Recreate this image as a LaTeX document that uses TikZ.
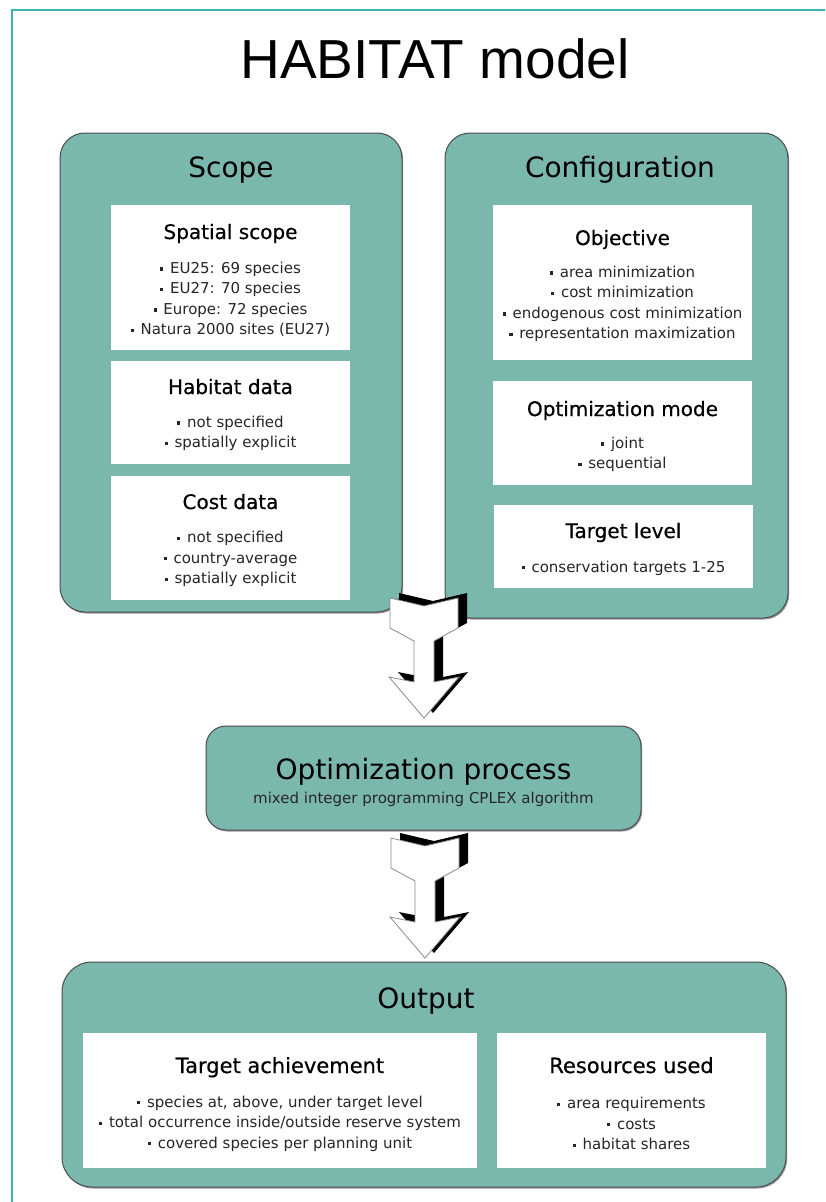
\documentclass[tikz,border=0pt]{standalone}
\usepackage{fontspec}
\setmainfont{DejaVu Sans}
\newfontfamily\titlefont{Liberation Sans}
\newfontfamily\headfont[FakeBold=0.5]{DejaVu Sans}
\newcommand\bul{\raisebox{0.35ex}{\rule{3.2pt}{3.2pt}}\hspace{0.45em}}
\usetikzlibrary{shadows}
\definecolor{panelfill}{HTML}{7AB8AE}
\definecolor{framecol}{HTML}{3DB4B4}
\tikzset{
  panel/.style={draw=black!70, line width=1pt, fill=panelfill, inner sep=0pt,
    drop shadow={shadow xshift=1.2pt, shadow yshift=-1.5pt, opacity=0.4, fill=black}},
  whitebox/.style={fill=white, draw=none, inner sep=0pt},
  head/.style={font=\fontsize{28}{32}\selectfont, anchor=base, inner sep=0pt},
  sub/.style={font=\headfont\fontsize{20}{24}\selectfont, anchor=base, inner sep=0pt},
  items/.style={font=\fontsize{15}{20.5}\selectfont, align=center, inner sep=0pt, text=black!85},
  blockarrow/.pic={
    \path[fill=black, shift={(9,-5)}] (-34,0) -- (0,8) -- (34,0) -- (34,30) -- (10,43) -- (10,84)
      -- (35,79) -- (0,120) -- (-35,79) -- (-10,84) -- (-10,43) -- (-34,30) -- cycle;
    \path[fill=white, draw=black!45, line width=0.8pt] (-34,0) -- (0,8) -- (34,0) -- (34,30) -- (10,43) -- (10,84)
      -- (35,79) -- (0,120) -- (-35,79) -- (-10,84) -- (-10,43) -- (-34,30) -- cycle;
  }
}
\begin{document}
\begin{tikzpicture}[x=1pt, y=-1pt]
\useasboundingbox (0,0) rectangle (825,1202);
\fill[white] (0,0) rectangle (825,1202);
\draw[framecol, line width=1.2pt] (12,1202) -- (12,10) -- (825,10);

\node[font=\titlefont\fontsize{55}{60}\selectfont, anchor=base, inner sep=0pt] (title) at (435,78) {HABITAT model};

% Scope panel
\node[panel, rounded corners=25pt, minimum width=342pt, minimum height=479pt] (scope) at (231,372.5) {};
\node[head] (scopet) at (231,177) {Scope};
\node[whitebox, minimum width=239pt, minimum height=145pt] (spatial) at (230.5,277.5) {};
\node[sub] (spatialt) at (230.5,239) {Spatial scope};
\node[items] (spatiali) at (230.5,299.5) {\bul EU25: 69 species\\\bul EU27: 70 species\\\bul Europe: 72 species\\\bul Natura 2000 sites (EU27)};
\node[whitebox, minimum width=239pt, minimum height=103pt] (habitat) at (230.5,412.5) {};
\node[sub] (habitatt) at (230.5,394) {Habitat data};
\node[items] (habitati) at (230.5,433.5) {\bul not specified\\\bul spatially explicit};
\node[whitebox, minimum width=239pt, minimum height=124pt] (cost) at (230.5,538) {};
\node[sub] (costt) at (230.5,509) {Cost data};
\node[items] (costi) at (230.5,559) {\bul not specified\\\bul country-average\\\bul spatially explicit};

% Configuration panel
\node[panel, rounded corners=25pt, minimum width=343pt, minimum height=485pt] (config) at (616.5,375.5) {};
\node[head] (configt) at (620,177) {Configuration};
\node[whitebox, minimum width=259pt, minimum height=155pt] (objective) at (622.5,282.5) {};
\node[sub] (objectivet) at (622.5,245) {Objective};
\node[items] (objectivei) at (622.5,304) {\bul area minimization\\\bul cost minimization\\\bul endogenous cost minimization\\\bul representation maximization};
\node[whitebox, minimum width=259pt, minimum height=104pt] (mode) at (622.5,433) {};
\node[sub] (modet) at (622.5,416) {Optimization mode};
\node[items] (modei) at (622.5,454.5) {\bul joint\\\bul sequential};
\node[whitebox, minimum width=259pt, minimum height=83pt] (target) at (623.5,546.5) {};
\node[sub] (targett) at (623.5,538) {Target level};
\node[items] (targeti) at (623.5,568) {\bul conservation targets 1-25};

% Optimization process
\node[panel, rounded corners=20pt, minimum width=435pt, minimum height=104pt] (process) at (423.5,778) {};
\node[head] (processt) at (423.5,779) {Optimization process};
\node[items] (processi) at (423.5,799) {mixed integer programming CPLEX algorithm};

% Output
\node[panel, rounded corners=30pt, minimum width=724pt, minimum height=225pt] (output) at (424,1074.5) {};
\node[head] (outputt) at (426,1008) {Output};
\node[whitebox, minimum width=394pt, minimum height=135pt] (achieve) at (280,1100.5) {};
\node[sub, font=\headfont\fontsize{21}{24}\selectfont] (achievet) at (280,1073) {Target achievement};
\node[items] (achievei) at (280,1123.5) {\bul species at, above, under target level\\\bul total occurrence inside/outside reserve system\\\bul covered species per planning unit};
\node[whitebox, minimum width=269pt, minimum height=135pt] (resources) at (631.5,1100.5) {};
\node[sub, font=\headfont\fontsize{21}{24}\selectfont] (resourcest) at (631.5,1073) {Resources used};
\node[items] (resourcesi) at (631.5,1123.5) {\bul area requirements\\\bul costs\\\bul habitat shares};

% block arrows between the panels
\pic at (424,598) {blockarrow};
\pic at (425,838) {blockarrow};
\end{tikzpicture}
\end{document}
